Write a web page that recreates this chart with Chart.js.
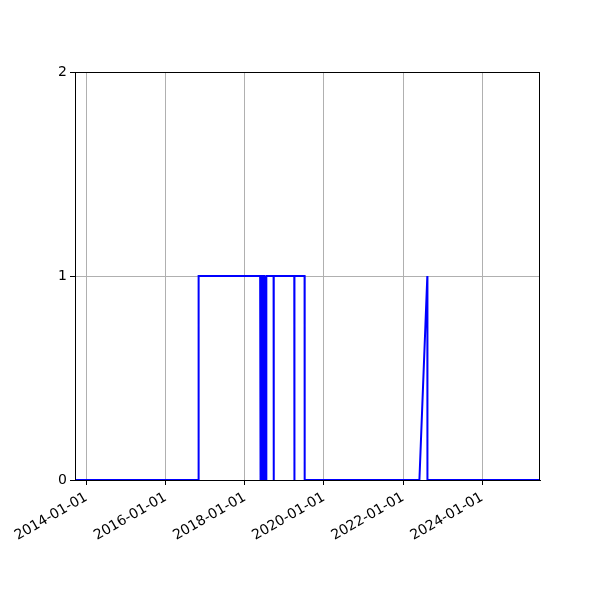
<!DOCTYPE html>
<html>
<head>
<meta charset="utf-8">
<script src="https://cdn.jsdelivr.net/npm/chart.js@4"></script>
<style>
  body { margin: 0; background: #fff; }
</style>
</head>
<body>
<canvas id="chart" width="600" height="600"></canvas>
<script>
// data (step series, 0 or 1)
const dates = [
  "2013-09-17", "2016-10-31", "2016-11-01",
  "2018-05-23", "2018-05-24", "2018-05-25",
  "2018-05-27", "2018-05-28", "2018-05-29",
  "2018-05-31", "2018-06-01", "2018-06-02",
  "2018-06-04", "2018-06-05", "2018-06-06",
  "2018-06-08", "2018-06-09", "2018-06-10",
  "2018-06-12", "2018-06-13", "2018-06-14",
  "2018-06-16", "2018-06-17", "2018-06-18",
  "2018-06-20", "2018-06-21", "2018-06-22",
  "2018-06-24", "2018-06-25", "2018-06-26",
  "2018-06-28", "2018-06-29", "2018-06-30",
  "2018-07-02", "2018-07-03", "2018-07-04",
  "2018-07-06", "2018-07-07", "2018-07-08",
  "2018-07-10", "2018-07-11", "2018-07-12",
  "2018-07-14", "2018-07-15", "2018-07-16",
  "2018-07-18", "2018-07-19", "2018-07-20",
  "2018-09-24", "2018-09-25", "2018-09-26",
  "2019-04-03", "2019-04-04", "2019-04-05",
  "2019-07-07", "2019-07-08",
  "2022-06-01", "2022-08-13", "2022-08-14",
  "2025-06-18"
];
const values = [
  0, 0, 1,
  1, 0, 1,
  1, 0, 1,
  1, 0, 1,
  1, 0, 1,
  1, 0, 1,
  1, 0, 1,
  1, 0, 1,
  1, 0, 1,
  1, 0, 1,
  1, 0, 1,
  1, 0, 1,
  1, 0, 1,
  1, 0, 1,
  1, 0, 1,
  1, 0, 1,
  1, 0, 1,
  1, 0, 1,
  1, 0,
  0, 1, 0,
  0
];
const xTickDates = ["2014-01-01", "2016-01-01", "2018-01-01", "2020-01-01", "2022-01-01", "2024-01-01"];
const yTicks = [0, 1, 2];
const xMin = "2013-09-17";
const xMax = "2025-06-18";

const ts = (d) => Date.parse(d + "T00:00:00Z");

// format timestamp as YYYY-MM-DD
const fmtDate = (v) => {
  const d = new Date(v);
  const m = String(d.getUTCMonth() + 1).padStart(2, "0");
  const day = String(d.getUTCDate()).padStart(2, "0");
  return d.getUTCFullYear() + "-" + m + "-" + day;
};

const points = dates.map((d, i) => ({ x: ts(d), y: values[i] }));

// black frame round the plot area, like the matplotlib spines
const frame = {
  id: "frame",
  afterDraw(c) {
    const a = c.chartArea, ctx = c.ctx;
    ctx.save();
    ctx.strokeStyle = "#000";
    ctx.lineWidth = 1;
    ctx.strokeRect(a.left + 0.5, a.top + 0.5, a.right - a.left - 1, a.bottom - a.top);
    ctx.restore();
  }
};

const font = { family: "DejaVu Sans", size: 14 };

new Chart(document.getElementById("chart"), {
  type: "line",
  data: {
    datasets: [{
      data: points,
      borderColor: "#0000ff",
      borderWidth: 2,
      pointRadius: 0,
      tension: 0,
      fill: false
    }]
  },
  options: {
    responsive: false,
    animation: false,
    layout: { padding: { top: 72, right: 60, left: 0, bottom: 0 } },
    plugins: { legend: { display: false }, tooltip: { enabled: false } },
    scales: {
      x: {
        type: "linear",
        min: ts(xMin),
        max: ts(xMax),
        afterBuildTicks: (axis) => {
          axis.ticks = xTickDates.map((d) => ({ value: ts(d) }));
        },
        afterFit: (axis) => { axis.height = 120; },
        ticks: {
          color: "#000",
          font: font,
          minRotation: 30,
          maxRotation: 30,
          padding: 4,
          callback: (v) => fmtDate(v)
        },
        grid: { color: "#b0b0b0", lineWidth: 1, tickColor: "#000", tickLength: 5 },
        border: { color: "#000", width: 1 }
      },
      y: {
        min: 0,
        max: 2,
        afterBuildTicks: (axis) => {
          axis.ticks = yTicks.map((v) => ({ value: v }));
        },
        afterFit: (axis) => { axis.width = 75; },
        ticks: { color: "#000", font: font, padding: 3 },
        grid: { color: "#b0b0b0", lineWidth: 1, tickColor: "#000", tickLength: 5 },
        border: { color: "#000", width: 1 }
      }
    }
  },
  plugins: [frame]
});
</script>
</body>
</html>
